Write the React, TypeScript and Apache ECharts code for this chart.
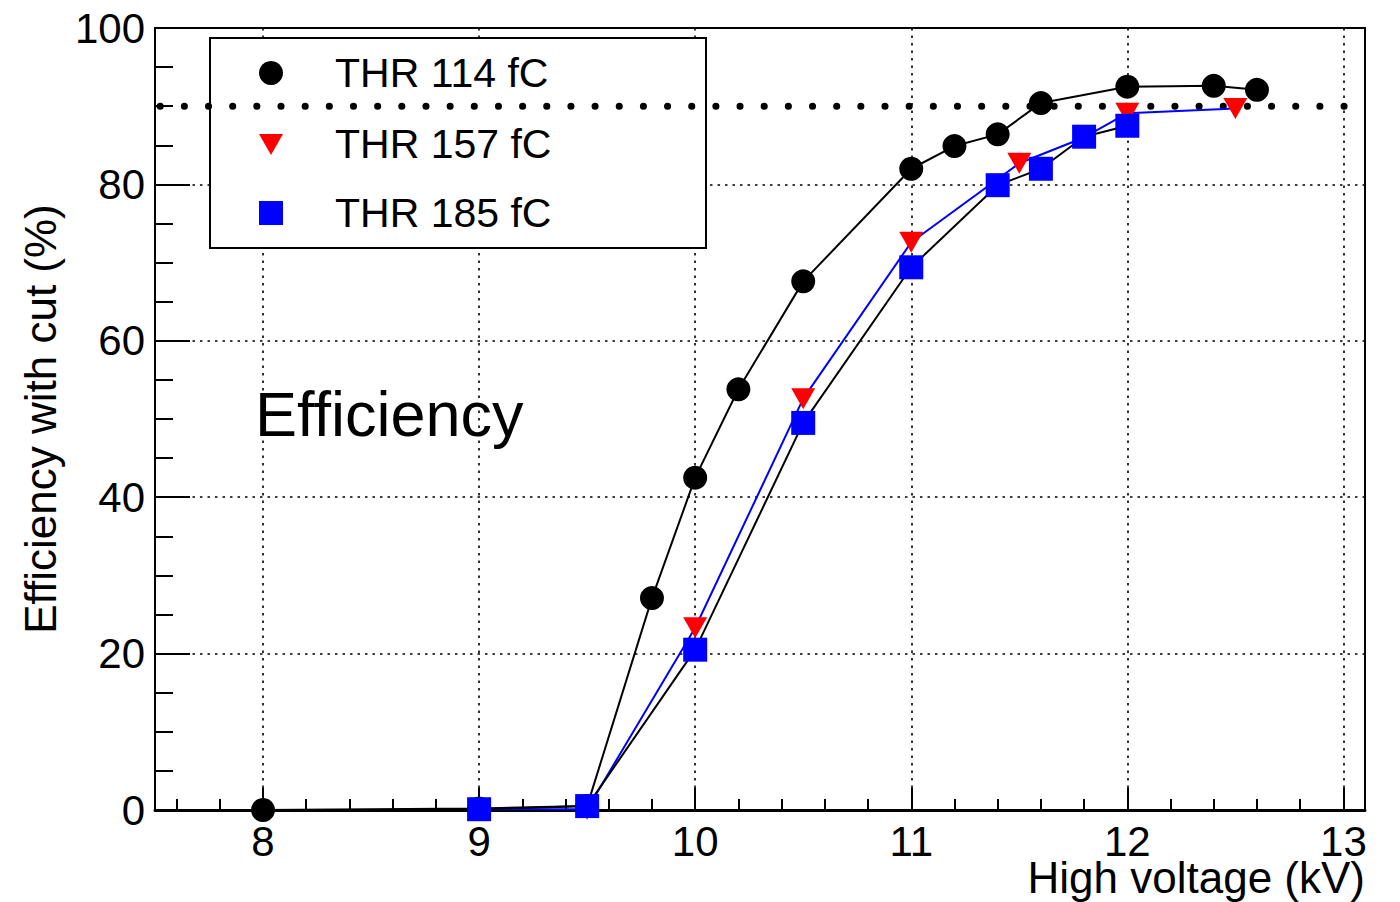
import React, { useEffect, useRef } from "react";
import * as echarts from "echarts";

// Efficiency (%) versus high voltage (kV) for three charge thresholds
const hv114 = [8, 9, 9.5, 9.8, 10, 10.2, 10.5, 11, 11.2, 11.4, 11.6, 12, 12.4, 12.6];
const eff114 = [0, 0.2, 0.5, 27.1, 42.5, 53.8, 67.6, 82.0, 84.9, 86.4, 90.4, 92.5, 92.6, 92.1];

const hv157 = [9, 9.5, 10, 10.5, 11, 11.5, 11.8, 12, 12.5];
const eff157 = [0.1, 0.1, 23.3, 52.6, 72.6, 82.7, 86.0, 89.1, 89.7];

const hv185 = [9, 9.5, 10, 10.5, 11, 11.4, 11.6, 11.8, 12];
const eff185 = [0.1, 0.5, 20.5, 49.5, 69.4, 79.9, 82.0, 86.1, 87.5];

const seriesNames = ["THR 114 fC", "THR 157 fC", "THR 185 fC"];

// Reference efficiency level
const targetLevel = 90;

// Axis ranges and tick positions
const xRange = [7.5, 13.1];
const xMajorTicks = [8, 9, 10, 11, 12, 13];
const xMinorTicks = [
  7.6, 7.8, 8.0, 8.2, 8.4, 8.6, 8.8, 9.0, 9.2, 9.4, 9.6, 9.8, 10.0, 10.2, 10.4,
  10.6, 10.8, 11.0, 11.2, 11.4, 11.6, 11.8, 12.0, 12.2, 12.4, 12.6, 12.8, 13.0,
];
const yRange = [0, 100];
const yStep = 20;

const xTitle = "High voltage (kV)";
const yTitle = "Efficiency with cut (%)";
const panelLabel = "Efficiency";

const FONT = "'Liberation Sans', Arial, Helvetica, sans-serif";
const downTriangle = "path://M0,0L20,0L10,18Z";

const pairs = (xs: number[], ys: number[]) => xs.map((x, i) => [x, ys[i]]);

export default function App() {
  const ref = useRef<HTMLDivElement>(null);

  useEffect(() => {
    if (!ref.current) return;
    const chart = echarts.init(ref.current, undefined, { renderer: "svg" });

    const dotted = { color: "#000", width: 1.6, type: [2.5, 5] as number[] };
    const legendFont = `41px ${FONT}`;
    const legendRows = [73, 144, 213];

    chart.setOption({
      animation: false,
      backgroundColor: "#fff",
      textStyle: { fontFamily: FONT },
      grid: {
        left: 155,
        right: 35,
        top: 28,
        bottom: 92,
        show: true,
        borderColor: "#000",
        borderWidth: 2,
        backgroundColor: "transparent",
        containLabel: false,
        outerBoundsMode: "none",
      },
      xAxis: [
        {
          type: "value",
          min: xRange[0],
          max: xRange[1],
          position: "bottom",
          axisLine: { show: true, onZero: false, lineStyle: { color: "#000", width: 3 } },
          axisTick: {
            show: true,
            inside: true,
            length: 22,
            customValues: xMajorTicks,
            lineStyle: { color: "#000", width: 2 },
          },
          axisLabel: {
            show: true,
            customValues: xMajorTicks,
            margin: 10,
            fontSize: 42,
            fontFamily: FONT,
            color: "#000",
          },
          splitLine: { show: true, lineStyle: dotted },
        },
        {
          type: "value",
          min: xRange[0],
          max: xRange[1],
          position: "bottom",
          axisLine: { show: false },
          axisTick: {
            show: true,
            inside: true,
            length: 11,
            customValues: xMinorTicks,
            lineStyle: { color: "#000", width: 2 },
          },
          axisLabel: { show: false },
          splitLine: { show: false },
        },
      ],
      yAxis: {
        type: "value",
        min: yRange[0],
        max: yRange[1],
        interval: yStep,
        name: yTitle,
        nameLocation: "middle",
        nameRotate: 90,
        nameGap: 93,
        nameTextStyle: { fontFamily: FONT, fontSize: 44, color: "#000" },
        axisLine: { show: true, onZero: false, lineStyle: { color: "#000", width: 2 } },
        axisTick: { show: true, inside: true, length: 35, lineStyle: { color: "#000", width: 2 } },
        minorTick: { show: true, splitNumber: 4, length: 18, lineStyle: { color: "#000", width: 2 } },
        axisLabel: { margin: 10, fontSize: 42, fontFamily: FONT, color: "#000" },
        splitLine: { show: true, lineStyle: dotted },
      },
      series: [
        {
          name: "90% level",
          type: "line",
          z: 2,
          silent: true,
          symbol: "none",
          data: [
            [xRange[0], targetLevel],
            [xRange[1], targetLevel],
          ],
          lineStyle: { color: "#000", width: 7, type: [0.1, 24.06], cap: "round", dashOffset: 19 },
        },
        {
          name: seriesNames[0],
          type: "line",
          z: 3,
          clip: false,
          data: pairs(hv114, eff114),
          symbol: "circle",
          symbolSize: 24,
          itemStyle: { color: "#000" },
          lineStyle: { color: "#000", width: 2 },
        },
        {
          name: seriesNames[1],
          type: "line",
          z: 3,
          clip: false,
          data: pairs(hv157, eff157),
          symbol: downTriangle,
          symbolSize: [24, 21],
          itemStyle: { color: "#ff0000" },
          lineStyle: { color: "#0000ff", width: 2 },
        },
        {
          name: seriesNames[2],
          type: "line",
          z: 3,
          clip: false,
          data: pairs(hv185, eff185),
          symbol: "rect",
          symbolSize: 24,
          itemStyle: { color: "#0000ff" },
          lineStyle: { color: "#000", width: 2 },
        },
      ],
      graphic: [
        {
          // legend frame: covers the grid lines, sits below the 90% level line
          type: "rect",
          z: 1,
          shape: { x: 210, y: 38, width: 496, height: 210 },
          style: { fill: "#fff", stroke: "#000", lineWidth: 2 },
        },
        {
          type: "circle",
          z: 10,
          shape: { cx: 271, cy: legendRows[0], r: 12 },
          style: { fill: "#000" },
        },
        {
          type: "polygon",
          z: 10,
          shape: { points: [[259, legendRows[1] - 10], [283, legendRows[1] - 10], [271, legendRows[1] + 11]] },
          style: { fill: "#ff0000" },
        },
        {
          type: "rect",
          z: 10,
          shape: { x: 259, y: legendRows[2] - 12, width: 24, height: 24 },
          style: { fill: "#0000ff" },
        },
        ...seriesNames.map((name, i) => ({
          type: "text",
          z: 10,
          x: 335,
          y: legendRows[i],
          style: { text: name, font: legendFont, fill: "#000", verticalAlign: "middle" },
        })),
        {
          type: "text",
          z: 10,
          x: 255,
          y: 414,
          style: { text: panelLabel, font: `63px ${FONT}`, fill: "#000", verticalAlign: "middle" },
        },
        {
          type: "text",
          z: 10,
          x: 1365,
          y: 877,
          style: {
            text: xTitle,
            font: `44px ${FONT}`,
            fill: "#000",
            align: "right",
            verticalAlign: "middle",
          },
        },
      ],
    });

    return () => chart.dispose();
  }, []);

  return (
    <div
      ref={ref}
      style={{ position: "absolute", left: 0, top: 0, width: 1400, height: 902, background: "#fff" }}
    />
  );
}
